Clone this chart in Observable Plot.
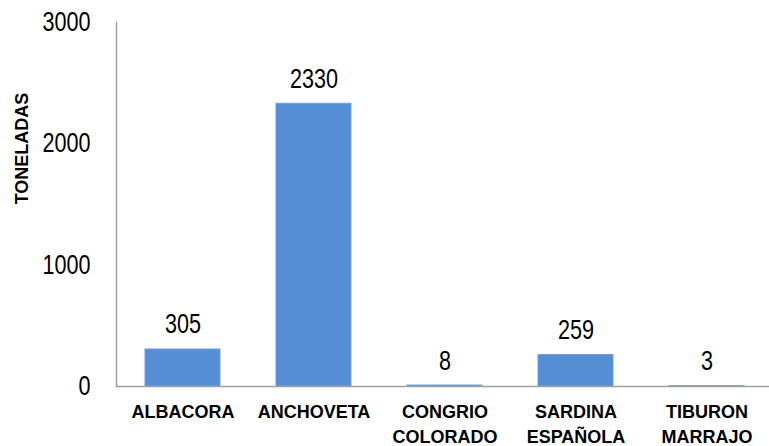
<!DOCTYPE html>
<html>
<head>
<meta charset="utf-8">
<script src="https://cdn.jsdelivr.net/npm/d3@7"></script>
<script src="https://cdn.jsdelivr.net/npm/@observablehq/plot@0.6"></script>
<style>
  html, body { margin: 0; padding: 0; background: #fff; }
  #chart svg { display: block; }
</style>
</head>
<body>
<div id="chart"></div>
<script>
const categories = ["ALBACORA", "ANCHOVETA", "CONGRIO\nCOLORADO", "SARDINA\nESPAÑOLA", "TIBURON\nMARRAJO"];
const values = [305, 2330, 8, 259, 3];
const yTicks = [0, 1000, 2000, 3000];
const yLabel = "TONELADAS";

const data = categories.map((c, i) => ({cat: c, val: values[i]}));
const sans = "'Liberation Sans', Arial, sans-serif";

const chart = Plot.plot({
  width: 769,
  height: 446,
  marginLeft: 116,
  marginRight: 0,
  marginTop: 22,
  marginBottom: 60,
  style: {background: "#fff", fontFamily: sans},
  x: {domain: categories, range: [115, 774], paddingInner: 0.43, paddingOuter: 0.215},
  y: {domain: [0, 3000]},
  marks: [
    Plot.barY(data, {x: "cat", y: "val", fill: "#558ED5", stroke: "#6a9de0", strokeWidth: 1}),
    Plot.frame({anchor: "left", stroke: "#a0a0a0", strokeWidth: 1.5}),
    Plot.ruleY([0], {stroke: "#a0a0a0", strokeWidth: 1.5}),
    Plot.text(data, {x: "cat", y: "val", text: d => String(d.val), lineAnchor: "bottom", dy: -16,
      fontSize: 27, fill: "#000", className: "narrow"}),
    Plot.axisY({ticks: yTicks, tickFormat: d => String(d), tickSize: 0, tickPadding: 26, fontSize: 27,
      fill: "#000", label: null, className: "narrow"}),
    Plot.axisX({tickSize: 0, tickPadding: 14, fontSize: 18, fontWeight: "bold", lineHeight: 1.39,
      lineAnchor: "top", fill: "#000", label: null}),
    Plot.text([yLabel], {frameAnchor: "left", text: d => d, rotate: -90, textAnchor: "middle", dx: -94, dy: -56,
      fontSize: 18, fontWeight: "bold", fill: "#000"})
  ]
});
// condense the numeric labels horizontally (narrow face look)
d3.select(chart).selectAll("g.narrow text").each(function() {
  const t = this.getAttribute("transform") || "";
  this.setAttribute("transform", t + " scale(0.8,1)");
});
document.getElementById("chart").appendChild(chart);
</script>
</body>
</html>
